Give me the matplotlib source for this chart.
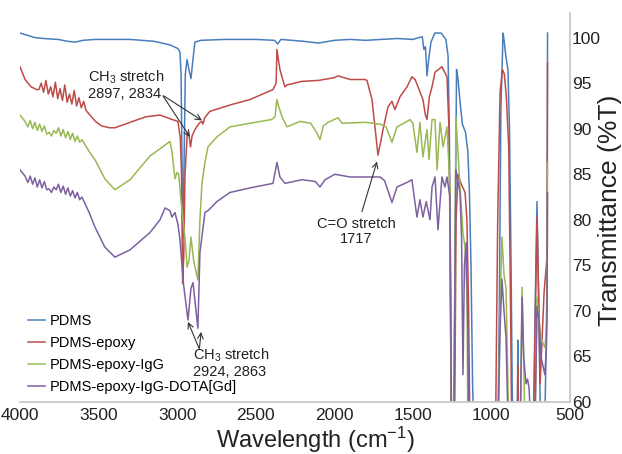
import matplotlib
matplotlib.use("Agg")
import matplotlib.pyplot as plt

plt.rcParams["font.family"] = ["Liberation Sans", "DejaVu Sans"]
plt.rcParams["mathtext.fontset"] = "custom"
plt.rcParams["mathtext.rm"] = "Liberation Sans"
plt.rcParams["mathtext.it"] = "Liberation Sans"

# (wavenumber cm-1, %T)
pdms = [
    (4000, 100.5), (3905, 100.0), (3850, 99.9), (3758, 99.8), (3700, 99.6), (3650, 99.5),
    (3600, 99.7), (3523, 99.8), (3400, 99.8), (3300, 99.8), (3150, 99.6), (3046, 99.2),
    (2995, 98.8), (2982, 98.4), (2975, 96.0), (2968, 85.0), (2963, 78.0), (2957, 85.0),
    (2948, 96.0), (2937, 97.6), (2925, 96.5), (2912, 95.5), (2900, 97.5), (2887, 99.5),
    (2850, 99.7), (2700, 99.8), (2500, 99.8), (2380, 99.7), (2360, 99.3), (2340, 99.8),
    (2200, 99.6), (2100, 99.4), (2000, 99.7), (1900, 99.8), (1800, 99.7), (1700, 99.8),
    (1600, 99.9), (1500, 99.8), (1440, 100.1), (1430, 98.7), (1420, 99.0), (1410, 95.8),
    (1400, 97.5), (1385, 99.5), (1360, 100.5), (1320, 100.5), (1290, 99.8), (1276, 98.0),
    (1268, 90.0), (1262, 75.0), (1255, 55.0), (1240, 55.0), (1232, 75.0), (1222, 96.5),
    (1213, 95.5), (1200, 93.0), (1185, 90.5), (1165, 89.6), (1150, 87.5), (1140, 83.0),
    (1130, 75.0), (1120, 62.0), (1110, 55.0), (960, 55.0), (950, 70.0), (940, 92.0),
    (926, 100.5), (918, 99.5), (912, 98.5), (905, 97.6), (895, 96.5), (885, 90.0),
    (875, 75.0), (868, 62.0), (862, 55.0), (836, 55.0), (832, 66.8), (828, 55.0),
    (735, 55.0), (722, 70.0), (710, 82.0), (700, 72.0), (690, 60.0), (685, 55.0),
    (660, 58.0), (650, 68.0), (646, 75.0), (643, 100.5),
]

pdms_epoxy = [
    (4000, 96.8), (3968, 95.4), (3930, 94.6), (3895, 94.3), (3880, 94.3), (3865, 95.0),
    (3850, 94.0), (3835, 95.3), (3820, 93.8), (3805, 94.6), (3790, 93.5), (3775, 95.1),
    (3760, 93.3), (3745, 94.4), (3730, 93.1), (3715, 94.8), (3700, 92.9), (3685, 93.8),
    (3670, 92.7), (3655, 94.2), (3640, 92.5), (3625, 93.4), (3610, 92.3), (3595, 93.0),
    (3580, 92.0), (3560, 91.6), (3540, 91.2), (3520, 90.8), (3480, 90.3), (3430, 90.1),
    (3396, 90.1), (3300, 90.7), (3200, 91.3), (3109, 91.5), (3030, 91.0), (2995, 90.8),
    (2980, 89.0), (2972, 85.0), (2965, 73.0), (2958, 76.0), (2950, 85.0), (2935, 89.6),
    (2925, 89.4), (2915, 88.0), (2905, 89.2), (2887, 89.9), (2860, 90.6), (2842, 90.8),
    (2836, 90.5), (2825, 91.2), (2792, 91.9), (2664, 92.6), (2536, 93.2), (2390, 94.3),
    (2370, 95.0), (2365, 98.7), (2355, 97.5), (2346, 96.5), (2330, 95.5), (2314, 94.6),
    (2301, 94.8), (2206, 95.2), (2100, 95.3), (2000, 95.6), (1976, 95.8), (1900, 95.4),
    (1805, 95.4), (1792, 95.3), (1760, 93.2), (1740, 90.0), (1722, 87.1), (1705, 88.5),
    (1690, 89.9), (1658, 92.4), (1633, 93.0), (1614, 92.1), (1582, 93.5), (1537, 94.6),
    (1506, 95.7), (1486, 95.4), (1467, 94.6), (1436, 93.2), (1420, 91.5), (1410, 91.0),
    (1395, 93.5), (1378, 94.6), (1359, 96.2), (1315, 96.8), (1283, 95.7), (1270, 90.0),
    (1262, 75.0), (1255, 55.0), (1235, 55.0), (1225, 80.0), (1213, 85.0), (1194, 84.0),
    (1168, 83.0), (1156, 80.0), (1145, 70.0), (1136, 55.0), (975, 55.0), (960, 80.0),
    (945, 94.0), (930, 96.5), (918, 96.0), (905, 93.5), (890, 88.0), (878, 70.0),
    (870, 55.0), (836, 55.0), (832, 64.0), (828, 55.0), (733, 55.0), (722, 68.0),
    (710, 80.3), (700, 72.0), (690, 62.0), (680, 66.0), (665, 72.0), (646, 76.0),
    (643, 97.2),
]

pdms_epoxy_igg = [
    (4000, 91.5), (3968, 90.8), (3950, 90.2), (3935, 90.9), (3920, 90.0), (3905, 90.7),
    (3890, 89.8), (3875, 90.5), (3860, 89.7), (3845, 90.3), (3830, 89.4), (3815, 89.6),
    (3800, 89.2), (3785, 89.8), (3770, 89.5), (3755, 90.1), (3740, 89.2), (3725, 89.9),
    (3710, 89.0), (3695, 89.7), (3680, 88.8), (3665, 89.5), (3650, 88.6), (3635, 89.2),
    (3620, 88.5), (3606, 88.8), (3560, 87.5), (3523, 86.6), (3460, 84.5), (3396, 83.3),
    (3300, 84.4), (3173, 87.0), (3077, 88.2), (3046, 88.6), (3033, 87.5), (3014, 84.5),
    (3001, 85.2), (2990, 85.0), (2975, 82.0), (2950, 78.0), (2937, 74.8), (2925, 75.5),
    (2912, 78.1), (2895, 75.5), (2868, 73.4), (2855, 80.0), (2842, 84.0), (2823, 86.3),
    (2804, 88.0), (2747, 89.1), (2664, 90.2), (2536, 90.6), (2400, 91.0), (2377, 91.3),
    (2365, 93.2), (2355, 92.5), (2333, 91.3), (2301, 90.2), (2218, 90.8), (2150, 90.6),
    (2110, 89.5), (2091, 88.8), (2070, 90.3), (2040, 90.7), (1976, 91.2), (1950, 90.6),
    (1800, 90.7), (1709, 90.5), (1670, 90.2), (1633, 88.5), (1601, 90.2), (1537, 90.8),
    (1518, 91.0), (1500, 90.6), (1474, 87.4), (1455, 90.7), (1436, 86.9), (1410, 89.9),
    (1397, 86.6), (1378, 91.0), (1359, 91.0), (1346, 85.5), (1327, 90.7), (1308, 88.0),
    (1283, 90.2), (1264, 83.6), (1255, 60.0), (1250, 55.0), (1238, 60.0), (1226, 91.3),
    (1200, 83.6), (1181, 78.5), (1168, 77.0), (1156, 72.0), (1149, 55.0), (960, 55.0),
    (945, 70.0), (933, 78.1), (920, 74.0), (907, 72.5), (895, 62.0), (888, 55.0),
    (818, 55.0), (805, 72.6), (795, 65.0), (785, 55.0), (725, 55.0), (710, 71.5),
    (697, 69.0), (685, 67.0), (660, 66.0), (650, 68.0), (646, 70.0), (643, 86.3),
]

pdms_epoxy_igg_dota = [
    (4000, 85.5), (3968, 84.8), (3950, 84.1), (3935, 84.8), (3920, 83.9), (3905, 84.6),
    (3890, 83.6), (3875, 84.4), (3860, 83.5), (3845, 84.2), (3830, 83.3), (3815, 83.4),
    (3800, 83.0), (3785, 83.6), (3770, 83.3), (3755, 83.9), (3740, 83.0), (3725, 83.7),
    (3710, 82.8), (3695, 83.5), (3680, 82.6), (3665, 83.2), (3650, 82.4), (3635, 83.0),
    (3620, 82.2), (3606, 82.5), (3560, 80.8), (3523, 79.2), (3460, 77.0), (3396, 75.9),
    (3300, 76.7), (3173, 78.6), (3109, 80.0), (3077, 81.3), (3046, 81.0), (3033, 80.3),
    (3014, 80.8), (2995, 79.5), (2982, 77.8), (2960, 73.0), (2931, 69.0), (2912, 72.5),
    (2899, 73.1), (2868, 68.1), (2855, 76.4), (2823, 80.8), (2804, 81.0), (2747, 82.0),
    (2664, 83.0), (2536, 83.5), (2390, 84.0), (2365, 86.3), (2346, 84.7), (2314, 84.0),
    (2206, 84.4), (2120, 84.2), (2091, 83.6), (2059, 84.4), (1996, 85.0), (1900, 84.7),
    (1709, 84.7), (1680, 84.3), (1633, 81.9), (1601, 83.6), (1537, 84.1), (1506, 84.4),
    (1474, 80.3), (1455, 82.2), (1436, 80.3), (1415, 82.0), (1391, 80.0), (1378, 83.6),
    (1359, 84.7), (1340, 78.9), (1315, 84.7), (1296, 83.6), (1283, 84.7), (1264, 82.5),
    (1255, 60.0), (1250, 55.0), (1238, 60.0), (1226, 85.5), (1200, 83.0), (1190, 78.0),
    (1181, 63.0), (1172, 75.0), (1160, 77.5), (1150, 68.0), (1143, 55.0), (960, 55.0),
    (945, 68.0), (933, 73.5), (920, 70.0), (907, 67.0), (895, 58.0), (888, 55.0),
    (818, 55.0), (805, 71.5), (795, 65.0), (780, 62.0), (770, 62.5), (760, 61.5),
    (745, 55.0), (725, 55.0), (710, 70.5), (697, 69.0), (685, 65.0), (660, 63.0),
    (650, 66.0), (646, 70.0), (643, 83.0),
]

series = [
    ("PDMS", pdms, "#4a7ebb"),
    ("PDMS-epoxy", pdms_epoxy, "#be4b48"),
    ("PDMS-epoxy-IgG", pdms_epoxy_igg, "#98b954"),
    ("PDMS-epoxy-IgG-DOTA[Gd]", pdms_epoxy_igg_dota, "#7d60a0"),
]

fig = plt.figure(figsize=(6.22, 4.54), dpi=100)
ax = fig.add_axes([20 / 622, 52 / 454, 550 / 622, 389 / 454])

for name, pts, col in series:
    wn = [p[0] for p in pts]
    t = [p[1] for p in pts]
    ax.plot(wn, t, color=col, lw=1.1, label=name)

ax.set_xlim(4000, 500)
ax.set_ylim(60, 102.7)
ax.set_yticks([60, 65, 70, 75, 80, 85, 90, 95, 100])
ax.set_xticks([4000, 3500, 3000, 2500, 2000, 1500, 1000, 500])
ax.yaxis.tick_right()
ax.tick_params(length=0, labelsize=12.5, colors="#222222")
ax.tick_params(axis="y", pad=1.5)
ax.tick_params(axis="x", pad=4)
for s in ["top", "left"]:
    ax.spines[s].set_visible(False)
for s in ["bottom", "right"]:
    ax.spines[s].set_color("#c8c8c8")
    ax.spines[s].set_linewidth(1.3)

fig.text(315 / 622, 1 - 440 / 454, "Wavelength (cm$^{-1}$)", fontsize=17,
         ha="center", va="center", color="#222222")
fig.text(610 / 622, 1 - 210 / 454, "Transmittance (%T)", fontsize=19,
         ha="center", va="center", rotation=90, color="#222222")

arrow = dict(arrowstyle="->", color="#333333", lw=0.8, shrinkA=0, shrinkB=0)

ax.text(3567, 96.6, "CH$_3$ stretch\n2897, 2834", fontsize=10.5, ha="left", va="top",
        linespacing=1.05, color="#222222")
ax.annotate("", xy=(2919, 89.1), xytext=(3090, 93.6), arrowprops=arrow)
ax.annotate("", xy=(2842, 90.9), xytext=(3085, 93.6), arrowprops=arrow)

ax.text(1862, 78.7, "C=O stretch\n1717", fontsize=10.5, ha="center", va="center",
        multialignment="center", linespacing=1.05, color="#222222")
ax.annotate("", xy=(1728, 86.4), xytext=(1824, 80.9), arrowprops=arrow)

ax.text(2899, 64.3, "CH$_3$ stretch\n2924, 2863", fontsize=10.5, ha="left", va="center",
        linespacing=1.05, color="#222222")
ax.annotate("", xy=(2931, 68.8), xytext=(2861, 65.9), arrowprops=arrow)
ax.annotate("", xy=(2848, 67.7), xytext=(2858, 65.9), arrowprops=arrow)

ax.legend(loc="lower left", bbox_to_anchor=(0.0145, 0.02), frameon=False, fontsize=10.5,
          handlelength=1.15, handletextpad=0.35, labelspacing=0.55, borderpad=0,
          borderaxespad=0)

fig.savefig("out.png", dpi=100)
